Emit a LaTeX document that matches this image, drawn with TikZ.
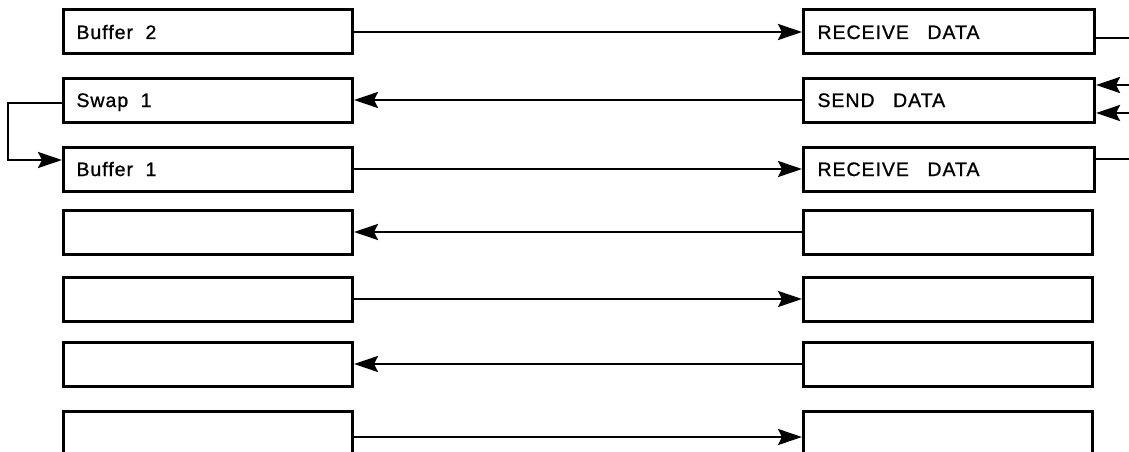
\documentclass[tikz,border=0pt]{standalone}
\usepackage{fontspec}
\setmainfont{Liberation Sans}
\newfontfamily\lblfont[LetterSpace=5,FakeBold=1]{Liberation Sans}
\usetikzlibrary{arrows.meta}
\begin{document}
\begin{tikzpicture}[x=1pt,y=-1pt,
  box/.style={draw,line width=3pt,minimum width=289pt,minimum height=44pt,
    inner xsep=13pt,inner ysep=0pt,text width=263pt,align=left,anchor=west,
    text height=14pt,text depth=0pt,font=\lblfont\fontsize{19.5}{20}\selectfont},
  tall/.style={minimum height=52pt},
  conn/.style={line width=2.6pt},
  tip/.style={-{Stealth[length=24pt,width=16pt,inset=4pt]}}]
\useasboundingbox (0,0) rectangle (1129,452);
\clip (0,0) rectangle (1129,452);
\fill[white] (0,0) rectangle (1129,452);
% left column
\node[box] (l1) at (62,32) {Buffer\hspace{6pt} 2};
\node[box] (l2) at (62,100) {Swap\hspace{6pt} 1};
\node[box] (l3) at (62,169) {Buffer\hspace{6pt} 1};
\node[box] (l4) at (62,232) {};
\node[box] (l5) at (62,299) {};
\node[box] (l6) at (62,364) {};
\node[box,tall] (l7) at (62,437) {};
% right column
\node[box,inner xsep=14pt] (r1) at (802,32) {RECEIVE\hspace{12pt} DATA};
\node[box,inner xsep=14pt] (r2) at (802,100) {SEND\hspace{12pt} DATA};
\node[box,inner xsep=14pt] (r3) at (802,169) {RECEIVE\hspace{12pt} DATA};
\node[box] (r4) at (802,232) {};
\node[box] (r5) at (802,299) {};
\node[box] (r6) at (802,364) {};
\node[box,tall] (r7) at (802,437) {};
% horizontal connectors
\draw[conn,tip] (l1.east) -- (r1.west);
\draw[conn,tip] (r2.west) -- (l2.east);
\draw[conn,tip] (l3.east) -- (r3.west);
\draw[conn,tip] (r4.west) -- (l4.east);
\draw[conn,tip] (l5.east) -- (r5.west);
\draw[conn,tip] (r6.west) -- (l6.east);
\draw[conn,tip] (l7.east) -- (r7.west);
% loop on the left
\coordinate (lx) at (8,0);
\draw[conn,tip] ([yshift=-3pt]l2.west) -| ([yshift=-3pt]lx |- l2.west) |- ([yshift=9pt]l3.west);
% free ends on the right
\coordinate (o1) at (1135,38);
\coordinate (i1) at (1135,85);
\coordinate (i2) at (1135,113);
\coordinate (o3) at (1135,159);
\draw[conn] (r1.east |- o1) -- (o1);
\draw[conn,tip] (i1) -- (r2.east |- i1);
\draw[conn,tip] (i2) -- (r2.east |- i2);
\draw[conn] (r3.east |- o3) -- (o3);
\end{tikzpicture}
\end{document}
